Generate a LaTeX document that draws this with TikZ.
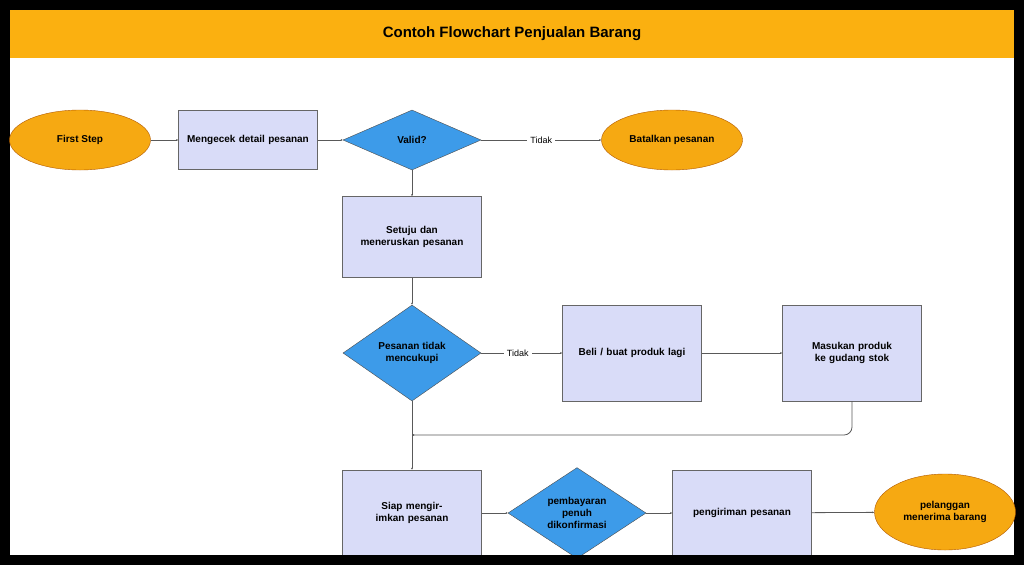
\documentclass[tikz,border=0pt]{standalone}
\usepackage{fontspec}
\setmainfont{Liberation Sans}
\usetikzlibrary{arrows.meta,positioning,shapes.geometric}
\definecolor{hdr}{HTML}{FBB010}
\definecolor{boxfill}{HTML}{D9DCF8}
\definecolor{dia}{HTML}{3D9BE9}
\definecolor{term}{HTML}{F6A912}
\tikzset{
  box/.style={draw=gray!80!black,fill=boxfill,minimum width=139pt,align=center,font=\bfseries\fontsize{10}{12}\selectfont,text width=125pt},
  dec/.style={diamond,draw=gray!60!black,fill=dia,minimum width=138pt,align=center,font=\bfseries\fontsize{10}{12}\selectfont,inner sep=0pt},
  term/.style={ellipse,draw=orange!70!black,fill=term,minimum width=141pt,align=center,font=\bfseries\fontsize{10}{12}\selectfont},
  line/.style={draw=gray!70!black,thick,-{Latex[length=2pt,width=2pt]}}
}
\begin{document}
\begin{tikzpicture}[x=1pt,y=-1pt]
\fill[black] (0,0) rectangle (1024,565);
\fill[white] (10,10) rectangle (1014,555);
\fill[hdr] (10,10) rectangle (1014,58);
\node (title) at (512,34) {\bfseries\fontsize{15}{18}\selectfont Contoh Flowchart Penjualan Barang};
% baris pertama
\node[term,minimum height=60pt] (start) at (80,140) {First Step};
\node[box,minimum height=59pt] (cek) at (248,140) {Mengecek detail pesanan};
\node[dec,minimum height=60pt] (valid) at (412,140) {Valid?};
\node[term,minimum height=60pt] (batal) at (672,140) {Batalkan pesanan};
\node[box,minimum height=81pt] (setuju) at (412,237) {Setuju dan meneruskan pesanan};
% baris tengah
\node[dec,minimum height=96pt] (cukup) at (412,353) {Pesanan tidak\\mencukupi};
\node[box,minimum height=96pt] (beli) at (632,353) {Beli / buat produk lagi};
\node[box,minimum height=96pt] (stok) at (852,353) {Masukan produk ke gudang stok};
% baris bawah
\node[box,minimum height=86pt] (siap) at (412,513) {Siap mengirimkan pesanan};
\node[dec,minimum height=86pt] (bayar) at (577,513) {pembayaran\\penuh\\dikonfirmasi};
\node[box,minimum height=86pt] (kirim) at (742,513) {pengiriman pesanan};
\node[term,minimum height=76pt] (terima) at (945,512) {pelanggan\\menerima barang};
\coordinate (belok) at (852,435);
\path[line]
(start) edge (cek)
(cek) edge (valid)
(valid) edge node[fill=white,font=\fontsize{9}{11}\selectfont] {Tidak} (batal)
(valid) edge (setuju)
(setuju) edge (cukup)
(cukup) edge node[fill=white,font=\fontsize{9}{11}\selectfont,pos=0.45] {Tidak} (beli)
(beli) edge (stok)
(cukup) edge (siap)
(siap) edge (bayar)
(bayar) edge (kirim)
(kirim) edge (terima);
\draw[line,rounded corners=8pt] (stok.south) -- (belok) -- (412,435);
\fill[black] (0,555) rectangle (1024,565);
\end{tikzpicture}
\end{document}
